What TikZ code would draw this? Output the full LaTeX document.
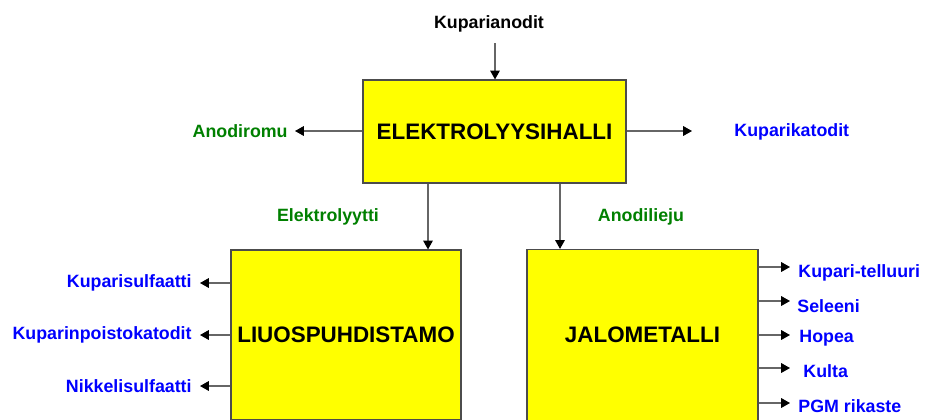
\documentclass[tikz,border=0pt]{standalone}
\usepackage{fontspec}
\setmainfont{Liberation Sans}
\usetikzlibrary{arrows.meta}
\definecolor{lblgreen}{RGB}{0,128,0}
\definecolor{lblblue}{RGB}{0,0,255}
\definecolor{boxyellow}{RGB}{255,255,0}
\begin{document}
\begin{tikzpicture}[x=0.5pt,y=-0.5pt,
  box/.style={draw=black!70, fill=boxyellow, line width=0.6pt, inner sep=0pt,
    font=\fontsize{11.2}{13}\selectfont\bfseries},
  lbl/.style={inner sep=0pt, font=\fontsize{8.9}{10}\selectfont\bfseries},
  glbl/.style={lbl, text=lblgreen},
  blbl/.style={lbl, text=lblblue},
  arr/.style={draw=black!60, line width=0.6pt,
    -{Triangle[length=4.4pt,width=4.8pt,color=black]}}
]
\path[use as bounding box, fill=white] (0,0) rectangle (925,419);
\clip (0,0) rectangle (925,419);

% boxes
\node[box, minimum width=131.5pt, minimum height=51.5pt] (top) at (494.5,131.5) {ELEKTROLYYSIHALLI};
\node[box, minimum width=115pt, minimum height=85pt] (lbox) at (346,335) {LIUOSPUHDISTAMO};
\node[box, minimum width=115.5pt, minimum height=85.5pt] (rbox) at (642.5,335) {JALOMETALLI};

% top input
\node[lbl] (kan) at (489,24) {Kuparianodit};
\coordinate (kanend) at (495,43);
\draw[arr] (kanend) -- (top.north -| kanend);

% top side outputs
\node[glbl, anchor=east] (adr) at (288,131) {Anodiromu};
\coordinate (adrend) at (295,131);
\draw[arr] (top.west |- adrend) -- (adrend);
\node[blbl, anchor=west] (kkat) at (734,132) {Kuparikatodit};
\coordinate (kkatend) at (692,131);
\draw[arr] (top.east |- kkatend) -- (kkatend);

% down flows
\node[glbl] (elek) at (328,217) {Elektrolyytti};
\node[glbl] (alie) at (641,217) {Anodilieju};
\coordinate (dl) at (428,0);
\coordinate (dr) at (560,0);
\draw[arr] (top.south -| dl) -- (lbox.north -| dl);
\draw[arr] (top.south -| dr) -- (rbox.north -| dr);

% left outputs
\node[blbl, anchor=east] (l1) at (192,283) {Kuparisulfaatti};
\node[blbl, anchor=east] (l2) at (192,335) {Kuparinpoistokatodit};
\node[blbl, anchor=east] (l3) at (192,386) {Nikkelisulfaatti};
\coordinate (l1e) at (200,283);
\coordinate (l2e) at (200,335);
\coordinate (l3e) at (200,386);
\foreach \c in {l1e,l2e,l3e} \draw[arr] (lbox.west |- \c) -- (\c);

% right outputs
\node[blbl, anchor=west] (r1) at (798,273) {Kupari-telluuri};
\node[blbl, anchor=west] (r2) at (797,306) {Seleeni};
\node[blbl, anchor=west] (r3) at (799,338) {Hopea};
\node[blbl, anchor=west] (r4) at (803,371) {Kulta};
\node[blbl, anchor=west] (r5) at (798,406) {PGM rikaste};
\coordinate (r1e) at (790,267);
\coordinate (r2e) at (790,301);
\coordinate (r3e) at (790,335);
\coordinate (r4e) at (790,368);
\coordinate (r5e) at (790,403);
\foreach \c in {r1e,r2e,r3e,r4e,r5e} \draw[arr] (rbox.east |- \c) -- (\c);
\end{tikzpicture}
\end{document}
